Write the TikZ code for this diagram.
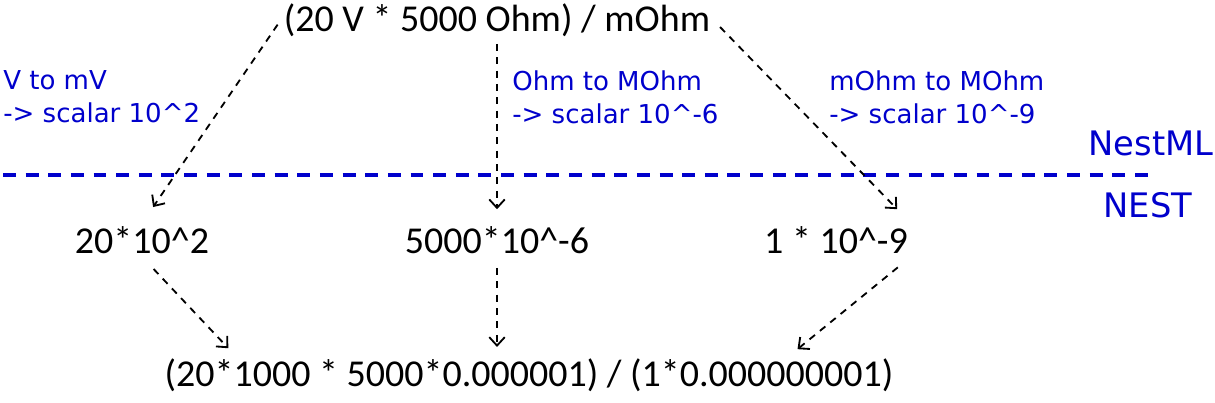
\documentclass[tikz,border=0pt]{standalone}
\usepackage{fontspec}
\setmainfont{Carlito}
\newfontfamily\notefont{DejaVu Sans}
\usetikzlibrary{calc,arrows.meta}
\definecolor{noteblue}{RGB}{0,0,204}

\begin{document}
\begin{tikzpicture}[x=0.025cm,y=-0.025cm,>={Straight Barb[length=6pt,width=11pt]},
    expr/.style={inner sep=2pt,font=\fontsize{27}{32}\selectfont},
    note/.style={inner sep=0pt,anchor=west,align=left,color=noteblue,font=\notefont\fontsize{18.5}{23.5}\selectfont},
    layer/.style={color=noteblue,line width=2.2pt,dash pattern=on 9.2pt off 6.9pt},
    conv/.style={->,line width=1.3pt,dash pattern=on 5pt off 4.5pt}]
    \useasboundingbox (0,0) rectangle (1215,402);
    \node[expr] (src) at (497,20) {(20 V * 5000 Ohm) / mOhm};
    \node[expr] (volt) at (142,240) {20*10\textasciicircum2};
    \node[expr] (ohm) at (497,240) {5000*10\textasciicircum-6};
    \node[expr] (mohm) at (836,240) {1 * 10\textasciicircum-9};
    \node[expr] (res) at (529,375) {(20*1000 * 5000*0.000001) / (1*0.000000001)};
    \node[note] (vnote) at (3,97) {V to mV\\-> scalar 10\textasciicircum2};
    \node[note] (onote) at (512,97) {Ohm to MOhm\\-> scalar 10\textasciicircum-6};
    \node[note] (mnote) at (829,97) {mOhm to MOhm\\-> scalar 10\textasciicircum-9};
    \node[note,anchor=center,font=\notefont\fontsize{24}{28}\selectfont] (nestml) at (1151,143) {NestML};
    \node[note,anchor=center,font=\notefont\fontsize{24}{28}\selectfont] (nest) at (1148,205) {NEST};
    \draw[layer] (3,175) -- (1155,175);
    \draw[conv,shorten <=4pt,shorten >=14pt] (src.west) -- (volt.north);
    \draw[conv,shorten <=3pt,shorten >=10pt] (src.south) -- (ohm.north);
    \draw[conv,shorten <=7pt,shorten >=14pt] (src.east) -- (mohm.north east);
    \draw[conv,shorten <=12pt,shorten >=7pt] (volt.south) -- ($(res.north west)!0.1!(res.north east)$);
    \draw[conv,shorten <=8pt,shorten >=6pt] (ohm.south) -- (ohm.south |- res.north);
    \draw[conv,shorten <=12pt,shorten >=7pt] (mohm.south east) -- ($(res.north west)!0.855!(res.north east)$);
\end{tikzpicture}
\end{document}
